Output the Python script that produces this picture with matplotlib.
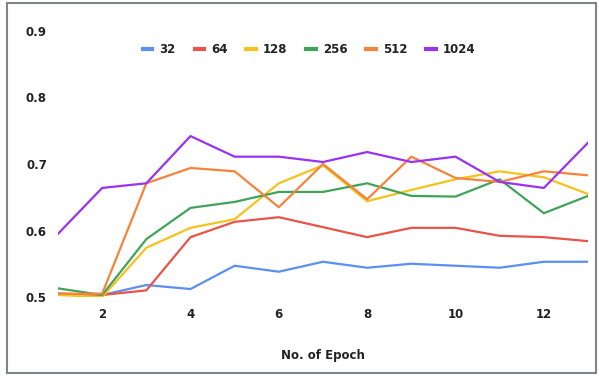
import matplotlib
matplotlib.use("Agg")
import matplotlib.pyplot as plt
from matplotlib.patches import Rectangle

# data
epoch = [1, 2, 3, 4, 5, 6, 7, 8, 9, 10, 11, 12, 13]
acc_32 = [0.505, 0.503, 0.518, 0.512, 0.547, 0.538, 0.553, 0.544, 0.550, 0.547, 0.544, 0.553, 0.553]
acc_64 = [0.505, 0.503, 0.510, 0.590, 0.613, 0.620, 0.605, 0.590, 0.604, 0.604, 0.592, 0.590, 0.584]
acc_128 = [0.503, 0.500, 0.574, 0.604, 0.617, 0.671, 0.698, 0.644, 0.661, 0.677, 0.689, 0.680, 0.655]
acc_256 = [0.513, 0.503, 0.587, 0.634, 0.643, 0.658, 0.658, 0.671, 0.652, 0.651, 0.677, 0.626, 0.652]
acc_512 = [0.505, 0.505, 0.671, 0.694, 0.689, 0.635, 0.700, 0.647, 0.711, 0.679, 0.673, 0.689, 0.683]
acc_1024 = [0.595, 0.664, 0.671, 0.742, 0.711, 0.711, 0.703, 0.718, 0.703, 0.711, 0.673, 0.664, 0.732]

labels = ["32", "64", "128", "256", "512", "1024"]
colors = ["#5b8ff0", "#e8534a", "#f6c21c", "#3fa45a", "#f5843a", "#9a32f2"]
series = [acc_32, acc_64, acc_128, acc_256, acc_512, acc_1024]

fig = plt.figure(figsize=(5.98, 3.76), dpi=100)
ax = fig.add_axes([58 / 598, 1 - 297 / 376, 530 / 598, 266 / 376])

for vals, lab, col in zip(series, labels, colors):
    ax.plot(epoch, vals, color=col, linewidth=1.6, label=lab)

ax.set_xlim(1, 13)
ax.set_ylim(0.5, 0.9)
ax.set_xticks([2, 4, 6, 8, 10, 12])
ax.set_yticks([0.5, 0.6, 0.7, 0.8, 0.9])
ax.set_yticklabels(["0.5", "0.6", "0.7", "0.8", "0.9"])
for s in ax.spines.values():
    s.set_visible(False)
ax.tick_params(length=0, labelsize=8.5, colors="#222222", pad=8)
for t in ax.get_xticklabels() + ax.get_yticklabels():
    t.set_fontweight("bold")
ax.set_xlabel("No. of Epoch", fontsize=8.5, fontweight="bold", color="#222222", labelpad=20)

leg = ax.legend(loc="upper center", bbox_to_anchor=(0.474, 0.995), ncol=6, frameon=False,
                fontsize=8.5, handlelength=0.8, handletextpad=0.6, columnspacing=1.6)
for t in leg.get_texts():
    t.set_fontweight("bold")
    t.set_color("#222222")
for h in leg.get_lines():
    h.set_linewidth(3)

# bingkai luar
fig.patches.append(Rectangle((7 / 598, 3 / 376), 589 / 598, 370 / 376, transform=fig.transFigure,
                             fill=False, edgecolor="#7d8787", linewidth=1.5))

fig.savefig("out.png", dpi=100)
